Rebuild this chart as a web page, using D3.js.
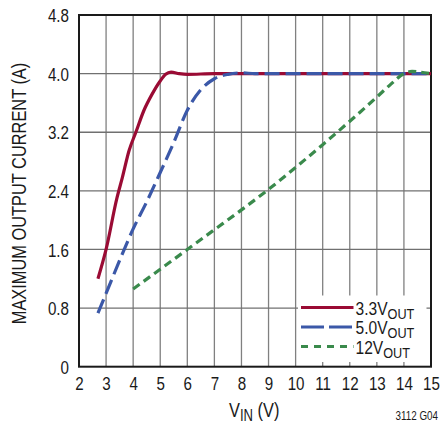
<!DOCTYPE html>
<html><head><meta charset="utf-8">
<script src="https://cdn.jsdelivr.net/npm/d3@7"></script>
<style>
html,body{margin:0;padding:0;background:#fff;}
svg text{font-family:"Liberation Sans",Arial,sans-serif;fill:#1a1a1a;}
</style></head>
<body><svg id="c" width="441" height="423"></svg>
<script>
// Data
const xTicks = [2,3,4,5,6,7,8,9,10,11,12,13,14,15];
const yTicks = [0,0.8,1.6,2.4,3.2,4.0,4.8];
const yTickLabels = ["0","0.8","1.6","2.4","3.2","4.0","4.8"];
const vin33 = [2.7,3.0,3.4,3.6,3.85,4.1,4.4,4.7,5.0,5.2,5.4,5.7,6.0,7.0,15];
const iout33 = [1.2,1.6,2.3,2.58,2.95,3.2,3.5,3.72,3.9,3.99,4.02,4.0,3.99,4.0,4.0];
const vin50 = [2.7,3.0,3.5,4.0,4.5,5.0,5.5,6.0,6.5,7.0,7.5,8.0,8.5,15];
const iout50 = [0.73,1.0,1.45,1.88,2.25,2.65,3.06,3.5,3.78,3.93,3.99,4.01,4.0,4.0];
const vin12 = [4,5,6,7,8,9,10,11,12,13,13.5,14,14.3,14.6,15];
const iout12 = [1.06,1.33,1.6,1.87,2.14,2.42,2.72,3.03,3.35,3.68,3.85,4.0,4.03,4.02,4.0];
const seriesNames = ["3.3V","5.0V","12V"];

const SX = 0.82; // condensed look
const svg = d3.select("#c");
const L=79, R=431, T=15, B=366.7;
const x = d3.scaleLinear().domain([2,15]).range([L,R]);
const y = d3.scaleLinear().domain([0,4.8]).range([B,T]);

// grid
const g = svg.append("g");
g.selectAll(".vg").data(xTicks.slice(1,-1)).enter().append("line")
 .attr("x1",d=>x(d)).attr("x2",d=>x(d)).attr("y1",T).attr("y2",B)
 .attr("stroke","#808080").attr("stroke-width",1.3);
g.selectAll(".hg").data(yTicks.slice(1,-1)).enter().append("line")
 .attr("y1",d=>y(d)).attr("y2",d=>y(d)).attr("x1",L).attr("x2",R)
 .attr("stroke","#707070").attr("stroke-width",1.3);

// legend background
svg.append("rect").attr("x",298).attr("y",295.5).attr("width",128.5).attr("height",362-295.5).attr("fill","#fff");

// frame
svg.append("rect").attr("x",L).attr("y",T).attr("width",R-L).attr("height",B-T)
 .attr("fill","none").attr("stroke","#1a1a1a").attr("stroke-width",2);

// axes labels via d3 axes
const xAxis = d3.axisBottom(x).tickValues(xTicks).tickSize(0).tickPadding(0).tickFormat(d3.format("d"));
const xa = svg.append("g").attr("transform",`translate(0,${B})`).call(xAxis);
xa.select(".domain").remove();
xa.attr("font-family",null).attr("font-size",null);
xa.selectAll("text").attr("font-size",18.5).attr("dy",null).attr("y",0)
  .attr("transform",`translate(0,23.5) scale(${SX},1)`);
const yAxis = d3.axisLeft(y).tickValues(yTicks).tickSize(0).tickPadding(0).tickFormat((d,i)=>yTickLabels[i]);
const ya = svg.append("g").attr("transform",`translate(${L-10},0)`).call(yAxis);
ya.select(".domain").remove();
ya.attr("font-family",null).attr("font-size",null);
ya.selectAll("text").attr("font-size",18.5).attr("dy","0.36em").attr("x",0)
  .attr("transform",`scale(${SX},1)`);
svg.selectAll(".tick text").attr("fill","#1a1a1a");

// lines
const colors = ["#9a0b34","#3b58a8","#3a8a4c"];
const dashes = [null,"15,6","8,5"];
const data = [
  d3.zip(vin33,iout33),
  d3.zip(vin50,iout50),
  d3.zip(vin12,iout12)
];
const line = d3.line().x(d=>x(d[0])).y(d=>y(d[1])).curve(d3.curveMonotoneX);
data.forEach((d,i)=>{
  svg.append("path").attr("d",line(d)).attr("fill","none")
   .attr("stroke",colors[i]).attr("stroke-width",3.2)
   .attr("stroke-dasharray",dashes[i]);
});

// legend
const ly=[307.5,327,346.5];
const legDash=[null,"23,5","7,6"];
seriesNames.forEach((n,i)=>{
  svg.append("line").attr("x1",301).attr("x2",353.5).attr("y1",ly[i]).attr("y2",ly[i])
   .attr("stroke",colors[i]).attr("stroke-width",3.2).attr("stroke-dasharray",legDash[i]);
  const t = svg.append("text").attr("transform",`translate(355.5,${ly[i]+7}) scale(${SX},1)`).attr("font-size",19);
  t.append("tspan").text(n);
  t.append("tspan").attr("font-size",15.5).attr("dy",4.3).text("OUT");
});

// axis titles
const xt = svg.append("text").attr("transform",`translate(229,416.5) scale(${SX},1)`).attr("font-size",20);
xt.append("tspan").text("V");
xt.append("tspan").attr("font-size",16).attr("dy",4.5).text("IN");
xt.append("tspan").attr("dy",-4.5).text(" (V)");

svg.append("text").attr("transform",`translate(26,193.5) rotate(-90) scale(${SX},1)`)
 .attr("text-anchor","middle").attr("font-size",20).text("MAXIMUM OUTPUT CURRENT (A)");

svg.append("text").attr("transform",`translate(438,420) scale(${SX},1)`).attr("text-anchor","end").attr("font-size",12).text("3112 G04");
</script></body></html>
